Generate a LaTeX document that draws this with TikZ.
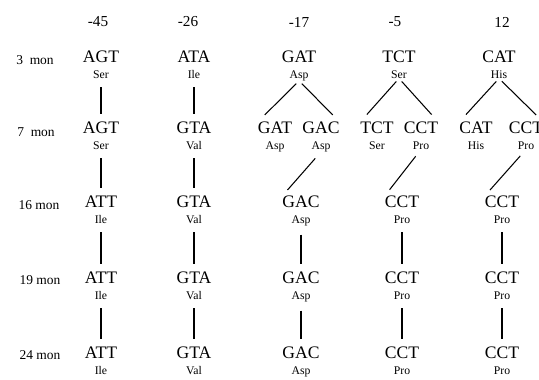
\documentclass[tikz,border=0pt]{standalone}
\usepackage{fontspec}
\setmainfont{Liberation Serif}
\newcommand{\amino}[1]{{\fontsize{10}{13}\selectfont #1}}

\begin{document}
\begin{tikzpicture}[x=0.03cm, y=-0.03cm,
  codon/.style={anchor=north, align=center, inner sep=0pt, font=\fontsize{15}{13}\selectfont},
  age/.style={font=\fontsize{11.5}{12}\selectfont},
  site/.style={font=\fontsize{13}{14}\selectfont},
  link/.style={line width=0.9pt, shorten <=0.26cm, shorten >=0.24cm},
  split/.style={line width=0.9pt, shorten <=0.12cm, shorten >=0.3cm}]
\useasboundingbox (0,0) rectangle (539,379);

\node (S-A) at (98,22) [site]{-45};
\node (S-B) at (188,22) [site]{-26};
\node (S-C) at (299,22) [site]{-17};
\node (S-D) at (395,22) [site]{-5};
\node (S-E) at (502,22) [site]{12};

\node (M-1) at (35,60) [age]{3\ \ mon};
\node (M-2) at (36,132) [age]{7\ \ mon};
\node (M-3) at (39,205) [age]{16\ mon};
\node (M-4) at (40,280) [age]{19\ mon};
\node (M-5) at (40,355) [age]{24\ mon};

% position -45
\node (A-1) at (101,51) [codon]{AGT\\\amino{Ser}};
\node (A-2) at (101,122) [codon]{AGT\\\amino{Ser}};
\node (A-3) at (101,196) [codon]{ATT\\\amino{Ile}};
\node (A-4) at (101,272) [codon]{ATT\\\amino{Ile}};
\node (A-5) at (101,347) [codon]{ATT\\\amino{Ile}};

% position -26
\node (B-1) at (194,51) [codon]{ATA\\\amino{Ile}};
\node (B-2) at (194,122) [codon]{GTA\\\amino{Val}};
\node (B-3) at (194,196) [codon]{GTA\\\amino{Val}};
\node (B-4) at (194,272) [codon]{GTA\\\amino{Val}};
\node (B-5) at (194,347) [codon]{GTA\\\amino{Val}};

% position -17
\node (C-1) at (299,51) [codon]{GAT\\\amino{Asp}};
\node (C-2a) at (275,122) [codon]{GAT\\\amino{Asp}};
\node (C-2b) at (321,122) [codon]{GAC\\\amino{Asp}};
\node (C-3) at (301,196) [codon]{GAC\\\amino{Asp}};
\node (C-4) at (301,272) [codon]{GAC\\\amino{Asp}};
\node (C-5) at (301,347) [codon]{GAC\\\amino{Asp}};

% position -5
\node (D-1) at (399,51) [codon]{TCT\\\amino{Ser}};
\node (D-2a) at (377,122) [codon]{TCT\\\amino{Ser}};
\node (D-2b) at (421,122) [codon]{CCT\\\amino{Pro}};
\node (D-3) at (402,196) [codon]{CCT\\\amino{Pro}};
\node (D-4) at (402,272) [codon]{CCT\\\amino{Pro}};
\node (D-5) at (402,347) [codon]{CCT\\\amino{Pro}};

% position 12
\node (E-1) at (499,51) [codon]{CAT\\\amino{His}};
\node (E-2a) at (476,122) [codon]{CAT\\\amino{His}};
\node (E-2b) at (526,122) [codon]{CCT\\\amino{Pro}};
\node (E-3) at (502,196) [codon]{CCT\\\amino{Pro}};
\node (E-4) at (502,272) [codon]{CCT\\\amino{Pro}};
\node (E-5) at (502,347) [codon]{CCT\\\amino{Pro}};

\draw [link] (A-1) -- (A-2);
\draw [link] (A-2) -- (A-3);
\draw [link] (A-3) -- (A-4);
\draw [link] (A-4) -- (A-5);

\draw [link] (B-1) -- (B-2);
\draw [link] (B-2) -- (B-3);
\draw [link] (B-3) -- (B-4);
\draw [link] (B-4) -- (B-5);

\draw [split] (C-1.south) -- (C-2a.north west);
\draw [split] (C-1.south) -- (C-2b.north east);
\draw [link] (C-2b.south) -- (C-3.north west);
\draw [link] (C-3) -- (C-4);
\draw [link] (C-4) -- (C-5);

\draw [split] (D-1.south) -- (D-2a.north west);
\draw [split] (D-1.south) -- (D-2b.north east);
\draw [link] (D-2b.south) -- (D-3.north west);
\draw [link] (D-3) -- (D-4);
\draw [link] (D-4) -- (D-5);

\draw [split] (E-1.south) -- (E-2a.north west);
\draw [split] (E-1.south) -- (E-2b.north east);
\draw [link] (E-2b.south) -- (E-3.north west);
\draw [link] (E-3) -- (E-4);
\draw [link] (E-4) -- (E-5);

\end{tikzpicture}
\end{document}
